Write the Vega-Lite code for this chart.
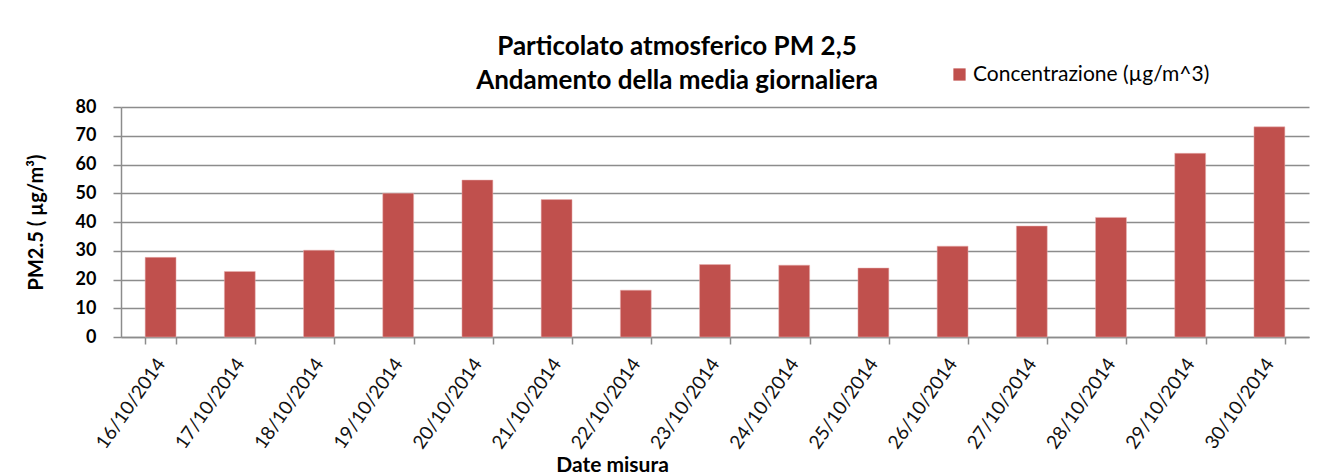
{
  "$schema": "https://vega.github.io/schema/vega-lite/v6.json",
  "autosize": "none",
  "width": 1188,
  "height": 230,
  "padding": {"left": 121, "top": 107, "right": 20, "bottom": 139},
  "background": "white",
  "config": {
    "view": {"stroke": null},
    "font": "Lato"
  },
  "title": {
    "text": ["Particolato atmosferico PM 2,5", "Andamento della media giornaliera"],
    "font": "Lato",
    "fontSize": 26,
    "fontWeight": "bold",
    "color": "#000000",
    "lineHeight": 34,
    "anchor": "middle",
    "frame": "group",
    "dx": -38,
    "dy": 46,
    "offset": 16
  },
  "data": {
    "values": [
      {"data": "16/10/2014", "valore": 27.7},
      {"data": "17/10/2014", "valore": 22.8},
      {"data": "18/10/2014", "valore": 30.2},
      {"data": "19/10/2014", "valore": 50.0},
      {"data": "20/10/2014", "valore": 54.6},
      {"data": "21/10/2014", "valore": 47.8},
      {"data": "22/10/2014", "valore": 16.3},
      {"data": "23/10/2014", "valore": 25.2},
      {"data": "24/10/2014", "valore": 25.0},
      {"data": "25/10/2014", "valore": 24.0},
      {"data": "26/10/2014", "valore": 31.6},
      {"data": "27/10/2014", "valore": 38.6},
      {"data": "28/10/2014", "valore": 41.6},
      {"data": "29/10/2014", "valore": 63.9},
      {"data": "30/10/2014", "valore": 73.1}
    ]
  },
  "mark": {"type": "bar", "stroke": "#e8b3b2", "strokeWidth": 0.5},
  "encoding": {
    "x": {
      "field": "data",
      "type": "ordinal",
      "sort": null,
      "scale": {"paddingInner": 0.61, "paddingOuter": 0.305},
      "axis": {
        "title": "Date misura",
        "titleFont": "Lato",
        "titleFontSize": 21,
        "titleFontWeight": "bold",
        "titleColor": "#000000",
        "titleX": 491,
        "titleY": 128,
        "titleBaseline": "middle",
        "titleAnchor": "middle",
        "titleAlign": "center",
        "labelAngle": -55,
        "labelAlign": "right",
        "labelBaseline": "middle",
        "labelFont": "Lato",
        "labelFontSize": 19,
        "labelColor": "#111111",
        "labelPadding": 16,
        "labelOverlap": false,
        "tickBand": "extent",
        "tickSize": 7,
        "tickColor": "#8c8c8c",
        "tickWidth": 1.5,
        "domainColor": "#8c8c8c",
        "domainWidth": 1.5,
        "grid": false
      }
    },
    "y": {
      "field": "valore",
      "type": "quantitative",
      "scale": {"domain": [0, 80], "nice": false},
      "axis": {
        "title": "PM2.5 ( µg/m³)",
        "titleFont": "Lato",
        "titleFontSize": 20,
        "titleFontWeight": "bold",
        "titleColor": "#000000",
        "titlePadding": 29,
        "values": [0, 10, 20, 30, 40, 50, 60, 70, 80],
        "labelFont": "Lato",
        "labelFontSize": 18,
        "labelFontWeight": "bold",
        "labelColor": "#000000",
        "labelPadding": 17,
        "tickSize": 8,
        "tickColor": "#8c8c8c",
        "tickWidth": 1.5,
        "domainColor": "#8c8c8c",
        "domainWidth": 1.5,
        "grid": true,
        "gridColor": "#8c8c8c",
        "gridWidth": 1.5
      }
    },
    "color": {
      "datum": "Concentrazione (µg/m^3)",
      "type": "nominal",
      "scale": {"range": ["#C0504D"]},
      "legend": {
        "title": null,
        "orient": "none",
        "legendX": 828,
        "legendY": -43,
        "symbolType": "square",
        "symbolSize": 150,
        "symbolStrokeWidth": 0,
        "labelFont": "Lato",
        "labelFontSize": 21,
        "labelLimit": 0,
        "labelColor": "#000000",
        "labelOffset": 3
      }
    }
  }
}
